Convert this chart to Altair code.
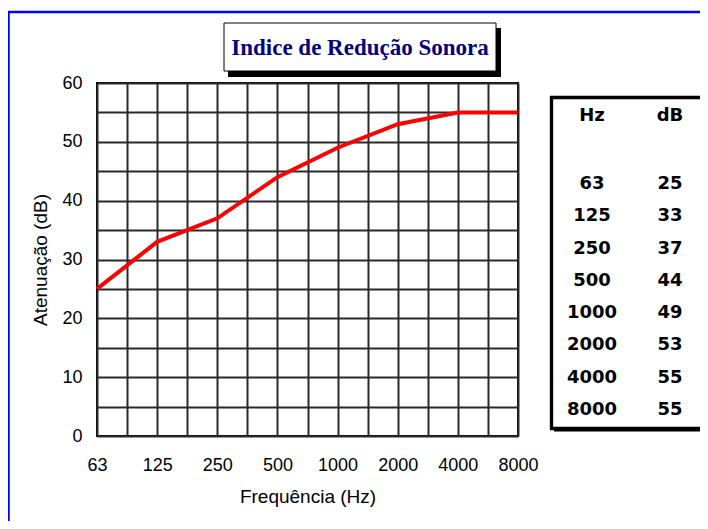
import altair as alt
import pandas as pd

# ---- data ----
freqs = ["63", "125", "250", "500", "1000", "2000", "4000", "8000"]
db = [25, 33, 37, 44, 49, 53, 55, 55]
table_head = ["Hz", "dB"]
title_text = "Indice de Redução Sonora"
x_title = "Frequência (Hz)"
y_title = "Atenuação (dB)"

W, H = 421, 353
df = pd.DataFrame({"i": list(range(len(freqs))), "freq": freqs, "db": db})

label_expr = "datum.value % 1 == 0 ? " + str(freqs) + "[datum.value] : ''"

x_enc = alt.X(
    "i:Q",
    scale=alt.Scale(domain=[0, len(freqs) - 1], nice=False, zero=False),
    axis=alt.Axis(
        values=[k * 0.5 for k in range(2 * (len(freqs) - 1) + 1)],
        labelExpr=label_expr,
        title=x_title,
        grid=True,
        ticks=False,
        tickSize=0,
        domain=False,
        labelFlush=False,
        labelOverlap=False,
        labelPadding=20,
        titlePadding=13,
    ),
)
y_enc = alt.Y(
    "db:Q",
    scale=alt.Scale(domain=[0, 60], nice=False),
    axis=alt.Axis(
        values=list(range(0, 61, 5)),
        labelExpr="datum.value % 10 == 0 ? datum.label : ''",
        title=y_title,
        grid=True,
        ticks=False,
        tickSize=0,
        domain=False,
        labelOverlap=False,
        labelPadding=15,
        titlePadding=11,
    ),
)

line = alt.Chart(df).mark_line(color="#FF0000", strokeWidth=4).encode(x=x_enc, y=y_enc)

one = pd.DataFrame({"t": [title_text]})

blue_border = alt.Chart(one).mark_rect(filled=False, stroke="#0000FF", strokeWidth=2.5).encode(
    x=alt.value(-88.5), x2=alt.value(2000), y=alt.value(-71), y2=alt.value(2000)
)
title_shadow = alt.Chart(one).mark_rect(color="black").encode(
    x=alt.value(131), x2=alt.value(404), y=alt.value(-55), y2=alt.value(-6)
)
title_box = alt.Chart(one).mark_rect(fill="white", stroke="black", strokeWidth=1).encode(
    x=alt.value(127), x2=alt.value(399), y=alt.value(-60), y2=alt.value(-12)
)
title_mark = alt.Chart(one).mark_text(
    font="Liberation Serif", fontSize=23, fontWeight="bold", color="#000080",
    align="center", baseline="middle"
).encode(text="t:N", x=alt.value(263), y=alt.value(-35))

table_shadow = alt.Chart(one).mark_rect(color="black").encode(
    x=alt.value(457), x2=alt.value(2000), y=alt.value(345), y2=alt.value(348.5)
)
table_box = alt.Chart(one).mark_rect(fill="white", stroke="black", strokeWidth=3.3).encode(
    x=alt.value(454.5), x2=alt.value(2000), y=alt.value(14.5), y2=alt.value(345.5)
)

head_df = pd.DataFrame({"h": table_head, "c": [0, 1]})
txt_kw = dict(font="DejaVu Sans", fontSize=18, fontWeight="bold", color="black",
              align="center", baseline="middle")
head = alt.Chart(head_df).mark_text(**txt_kw).encode(
    text="h:N",
    x=alt.X("c:O", scale=alt.Scale(type="point", range=[495, 573], padding=0), axis=None),
    y=alt.value(33),
)
rows_y = alt.Y("i:O", scale=alt.Scale(type="point", range=[101, 327], padding=0), axis=None)
col_hz = alt.Chart(df).mark_text(**txt_kw).encode(text="freq:N", x=alt.value(495), y=rows_y)
col_db = alt.Chart(df).mark_text(**txt_kw).encode(text="db:Q", x=alt.value(573), y=rows_y)

decor = alt.layer(blue_border, title_shadow, title_box, title_mark, table_box, table_shadow)
table = alt.layer(head, col_hz, col_db)
main = alt.layer(line)

chart = alt.layer(main, decor, table).resolve_scale(x="independent", y="independent").properties(
    width=W,
    height=H,
    padding={"left": 89, "top": 75, "right": 182, "bottom": 85},
    autosize=alt.AutoSizeParams(type="none"),
).configure_view(
    stroke="black", strokeWidth=2
).configure_axis(
    labelFont="Liberation Sans", labelFontSize=18, labelColor="black",
    titleFont="Liberation Sans", titleFontSize=19, titleColor="black", titleFontWeight="normal",
    gridColor="#2a2a2a", gridWidth=2, gridOpacity=1,
)

chart.save("out.html", embed_options={"renderer": "svg", "actions": False})
